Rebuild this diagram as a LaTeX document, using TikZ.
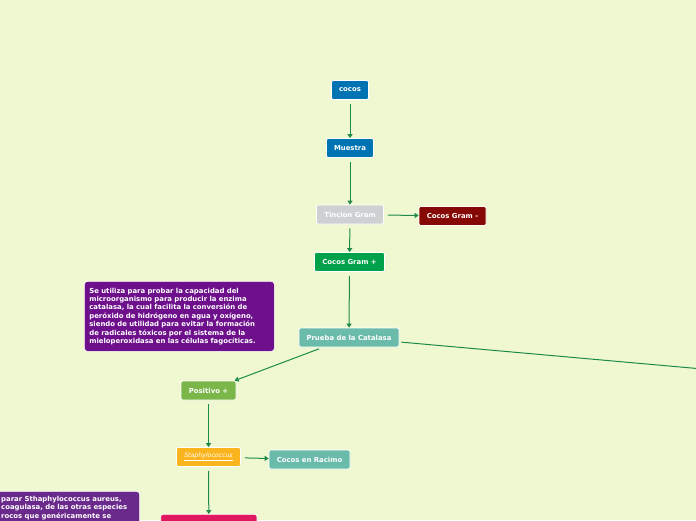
\documentclass[tikz,border=0pt]{standalone}
\usepackage{fontspec}
\setmainfont{DejaVu Sans}[ItalicFont=DejaVu Sans Oblique, BoldFont=DejaVu Sans Bold, BoldItalicFont=DejaVu Sans Bold Oblique]
\usetikzlibrary{arrows.meta}
\definecolor{bgc}{RGB}{240,248,210}
\definecolor{cblue}{RGB}{0,115,178}
\definecolor{cgray}{RGB}{206,208,210}
\definecolor{cred}{RGB}{134,8,4}
\definecolor{cgreen}{RGB}{0,161,75}
\definecolor{cteal}{RGB}{107,187,170}
\definecolor{cpurple}{RGB}{110,16,140}
\definecolor{clime}{RGB}{122,182,72}
\definecolor{corange}{RGB}{250,180,30}
\definecolor{cpink}{RGB}{224,24,96}
\definecolor{cpurpleb}{RGB}{106,42,140}
\definecolor{cline}{RGB}{30,138,74}
\tikzset{
  box/.style={draw=white, line width=0.7pt, rounded corners=2pt, text=white,
    font=\fontsize{6.9}{7}\selectfont\bfseries, inner sep=0pt, minimum height=19pt},
  note/.style={draw=white, line width=0.7pt, rounded corners=3pt, text=white,
    font=\fontsize{6.9}{8.4}\selectfont\bfseries, align=left, inner sep=0pt},
  conn/.style={draw=cline, line width=1pt, -{Triangle[length=4pt,width=5pt]}, shorten <=4pt},
  plain/.style={draw=cline, line width=1pt, shorten <=2pt}
}
\begin{document}
\begin{tikzpicture}[x=1pt,y=-1pt]
\useasboundingbox (0,0) rectangle (696,520);
\fill[bgc] (0,0) rectangle (696,520);
\clip (0,0) rectangle (696,520);

\node[box, fill=cblue, minimum width=37pt] (cocos) at (350,90) {cocos};
\node[box, fill=cblue, minimum width=47pt] (muestra) at (350,148) {Muestra};
\node[box, fill=cgray, minimum width=67pt] (tincion) at (350,214.5) {Tincion Gram};
\node[box, fill=cred, minimum width=67pt] (gramneg) at (452.5,216) {Cocos Gram -};
\node[box, fill=cgreen, minimum width=70pt] (grampos) at (349.5,262) {Cocos Gram +};
\node[box, fill=cteal, minimum width=100pt] (prueba) at (349,337.5) {Prueba de la Catalasa};
\node[box, fill=clime, minimum width=55pt] (positivo) at (208.5,390.5) {Positivo +};
\node[box, fill=corange, minimum width=64pt, font=\fontsize{6.2}{7}\selectfont\itshape] (staph) at (208.5,457) {\underline{Staphylococcus}};
\node[box, fill=cteal, minimum width=81pt] (racimo) at (309.5,459.5) {Cocos en Racimo};
\node[box, fill=cpink, minimum width=96pt, minimum height=20pt, anchor=north west] (pink) at (160.5,514) {};

\node[note, fill=cpurple, minimum width=190pt, minimum height=70pt, anchor=north west, text width=180pt] (note1) at (84,281)
 {Se utiliza para probar la capacidad del\\microorganismo para producir la enzima\\catalasa, la cual facilita la conversión de\\peróxido de hidrógeno en agua y oxígeno,\\siendo de utilidad para evitar la formación\\de radicales tóxicos por el sistema de la\\mieloperoxidasa en las células fagocíticas.};

\node[note, fill=cpurpleb, minimum width=150pt, minimum height=40pt, anchor=north east, text width=138pt] (note2) at (140,491)
 {};
\node[font=\fontsize{6.9}{8.4}\selectfont\bfseries, text=white, align=left, anchor=north west, inner sep=0pt] (note2t) at (1,496)
 {parar Sthaphylococcus aureus,\\coagulasa, de las otras especies\\rocos que genéricamente se};

\coordinate (offr) at (900,386.6);

\draw[conn] (cocos) -- (muestra);
\draw[conn] (muestra) -- (tincion);
\draw[conn] (tincion) -- (gramneg);
\draw[conn] (tincion) -- (grampos);
\draw[conn] (grampos) -- (prueba);
\draw[conn] (prueba) -- (positivo);
\draw[plain] (prueba) -- (offr);
\draw[conn] (positivo) -- (staph);
\draw[conn] (staph) -- (racimo);
\draw[conn] (staph) -- (pink);
\end{tikzpicture}
\end{document}
